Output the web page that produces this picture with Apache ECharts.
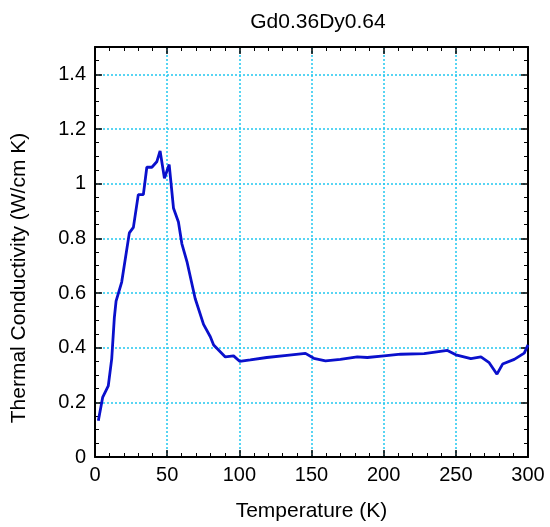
<!DOCTYPE html>
<html>
<head>
<meta charset="utf-8">
<script src="https://cdn.jsdelivr.net/npm/echarts@6/dist/echarts.min.js"></script>
<style>
  html, body { margin: 0; padding: 0; background: #fff; }
  #chart { width: 550px; height: 527px; }
</style>
</head>
<body>
<div id="chart"></div>
<script>
// temperature (K) and thermal conductivity (W/cm K)
var temps = [2.3, 5.3, 9.2, 11.6, 13.4, 14.6, 18.5, 23.8, 26.6, 30, 33.5, 35.9, 39.4, 42.8, 45.1, 48.1, 51.4,
  54.4, 57.8, 60.2, 63.7, 69.4, 75.2, 79.9, 82.2, 90.3, 96, 100.2, 107.6, 119, 133, 145.8, 151.6, 159.7,
  170, 181.7, 188.7, 200.2, 211.8, 228, 244.2, 250, 260.4, 267.4, 273.1, 278.5, 282.4, 290.5, 297.4, 300];
var kappa = [0.133, 0.218, 0.26, 0.36, 0.51, 0.57, 0.64, 0.82, 0.84, 0.96, 0.96, 1.06, 1.06, 1.08, 1.12, 1.02, 1.07,
  0.91, 0.86, 0.78, 0.715, 0.58, 0.485, 0.44, 0.41, 0.366, 0.37, 0.35, 0.355, 0.364, 0.372, 0.379, 0.361, 0.352,
  0.357, 0.366, 0.364, 0.37, 0.376, 0.378, 0.39, 0.374, 0.36, 0.366, 0.345, 0.303, 0.34, 0.357, 0.38, 0.41];

var chart = echarts.init(document.getElementById('chart'));

var font = 'Liberation Sans, Arial, sans-serif';
var gridLine = { show: true, lineStyle: { color: '#22c8f0', type: [2, 2], width: 1.5 } };
var axisLine = { show: true, onZero: false, lineStyle: { color: '#000', width: 2 } };
var tick = { inside: true, length: 7, lineStyle: { color: '#000', width: 1.5 } };

chart.setOption({
  backgroundColor: '#fff',
  animation: false,
  title: {
    text: 'Gd0.36Dy0.64',
    left: 313,
    top: 7,
    textAlign: 'center',
    textStyle: { fontFamily: font, fontSize: 21, fontWeight: 'normal', color: '#000' }
  },
  graphic: [{
    type: 'text',
    x: 19,
    y: 278,
    rotation: Math.PI / 2,
    style: {
      text: 'Thermal Conductivity (W/cm K)',
      fontFamily: font,
      fontSize: 21,
      fill: '#000',
      align: 'center',
      verticalAlign: 'middle'
    }
  }],
  grid: { left: 95, right: 22, top: 47, bottom: 62 },
  xAxis: [{
    type: 'value',
    min: 0,
    max: 300,
    interval: 50,
    name: 'Temperature (K)',
    nameLocation: 'middle',
    nameGap: 44,
    nameTextStyle: { fontFamily: font, fontSize: 21, color: '#000' },
    axisLine: axisLine,
    axisTick: tick,
    minorTick: { show: true, splitNumber: 5, length: 4, lineStyle: { color: '#000' } },
    axisLabel: { fontFamily: font, fontSize: 20, color: '#000', margin: 8 },
    splitLine: gridLine
  }, {
    type: 'value',
    position: 'top',
    min: 0,
    max: 300,
    interval: 50,
    axisLine: axisLine,
    axisTick: tick,
    minorTick: { show: true, splitNumber: 5, length: 4, lineStyle: { color: '#000' } },
    axisLabel: { show: false },
    splitLine: { show: false }
  }],
  yAxis: [{
    type: 'value',
    min: 0,
    max: 1.5,
    interval: 0.2,
    axisLine: axisLine,
    axisTick: tick,
    minorTick: { show: true, splitNumber: 4, length: 4, lineStyle: { color: '#000' } },
    axisLabel: { fontFamily: font, fontSize: 20, color: '#000', margin: 9, showMaxLabel: false },
    splitLine: gridLine
  }, {
    type: 'value',
    position: 'right',
    min: 0,
    max: 1.5,
    interval: 0.2,
    axisLine: axisLine,
    axisTick: tick,
    minorTick: { show: true, splitNumber: 4, length: 4, lineStyle: { color: '#000' } },
    axisLabel: { show: false },
    splitLine: { show: false }
  }],
  series: [{
    type: 'line',
    showSymbol: false,
    lineStyle: { color: '#0a10cc', width: 2.8 },
    data: temps.map(function (t, i) { return [t, kappa[i]]; })
  }]
});
</script>
</body>
</html>
